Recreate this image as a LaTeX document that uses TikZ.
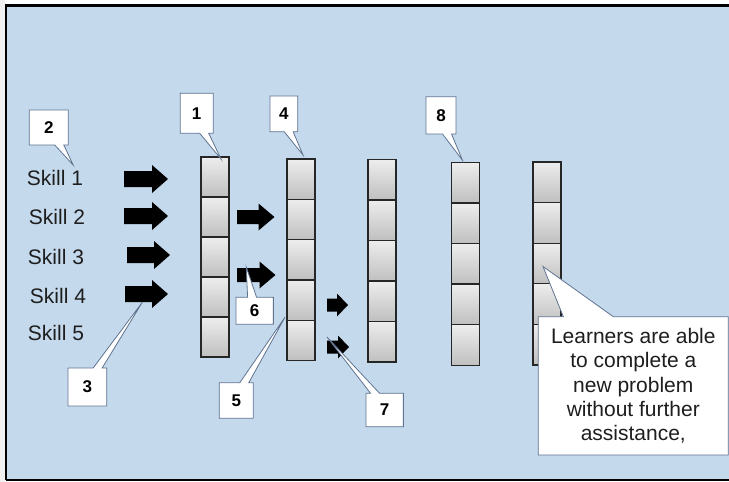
\documentclass[tikz,border=0pt]{standalone}
\usepackage{fontspec}
\setmainfont{Liberation Sans}
\usetikzlibrary{shapes.callouts,calc}

\definecolor{bgblue}{RGB}{197,217,236}
\definecolor{cborder}{RGB}{95,115,145}
\definecolor{skilltext}{RGB}{30,30,30}

\newcommand\blockarrow[7]{% name, x-left, y-centre, length, head length, shaft height, head height
  \fill[black] (#2,{#3-#6/2}) -- ({#2+#4-#5},{#3-#6/2}) -- ({#2+#4-#5},{#3-#7/2})
    -- ({#2+#4},#3) -- ({#2+#4-#5},{#3+#7/2}) -- ({#2+#4-#5},{#3+#6/2})
    -- (#2,{#3+#6/2}) -- cycle;
  \coordinate (#1) at ({#2+#4/2},#3);
}

\begin{document}
\begin{tikzpicture}[x=1pt,y=-1pt,
  cell/.style={draw=black!85, line width=1.3pt, top color=gray!14, bottom color=gray!50,
    minimum width=28pt, inner sep=0pt, outer sep=0pt},
  skill/.style={text=skilltext, font=\fontsize{21}{24}\selectfont, inner sep=0pt},
  note/.style={rectangle callout, draw=cborder, line width=0.8pt, fill=white,
    callout pointer width=9pt, inner sep=0pt, font=\fontsize{17}{20}\selectfont\bfseries},
  bignote/.style={rectangle callout, draw=cborder, line width=0.8pt, fill=white,
    callout pointer width=50pt, inner sep=0pt, align=center,
    font=\fontsize{21}{24.3}\selectfont, text=skilltext}
]
% background and frame
\useasboundingbox (0,0) rectangle (729,482);
\fill[white] (0,0) rectangle (729,482);
\fill[gray!12] (0,0) rectangle (5,482);
\fill[bgblue] (6,6) rectangle (729,479);
\draw[black, line width=2.4pt] (6,480) -- (6,5.5) -- (729,5.5);
\draw[black, line width=2.2pt] (6,480) -- (729,480);

% columns of cells
\foreach \c/\x/\t/\h in {1/215/157/40, 2/301/159/40.3, 3/382/159.5/40.5, 4/465.5/162.3/40.6, 5/547/162/40.6}{
  \foreach \k in {1,...,5}{
    \node[cell, minimum height=\h pt] (c\c-\k) at (\x,{\t+(\k-0.5)*\h}) {};
  }
}

% skills
\node[skill] (s1) at (55,178) {Skill 1};
\node[skill] (s2) at (57,217) {Skill 2};
\node[skill] (s3) at (56,257) {Skill 3};
\node[skill] (s4) at (58,296) {Skill 4};
\node[skill] (s5) at (56,333) {Skill 5};

% block arrows
\blockarrow{a1}{124}{179}{44}{16}{16}{28}
\blockarrow{a2}{124}{216}{44}{16}{16}{28}
\blockarrow{a3}{127}{255}{43}{16}{16}{28}
\blockarrow{a4}{125}{294}{43}{16}{16}{28}
\blockarrow{m1}{237}{217}{37.5}{16}{14}{27}
\blockarrow{m2}{237}{275}{38.5}{16}{14}{27}
\blockarrow{n1}{327}{305}{21}{11}{13}{23}
\blockarrow{n2}{327}{347}{22}{11}{13}{23}

% callouts
\node[note, minimum width=33pt, minimum height=40pt,
  callout absolute pointer={($(c1-1.north)+(6,2)$)}] (k1) at (196.7,113.3) {1};
\node[note, minimum width=39pt, minimum height=35pt,
  callout absolute pointer={($(s1.north east)+(-10,-5)$)}] (k2) at (48.8,127.5) {2};
\node[note, minimum width=38.7pt, minimum height=38pt,
  callout absolute pointer={($(a4)+(-4,8)$)}] (k3) at (87.3,387) {3};
\node[note, minimum width=27.7pt, minimum height=35.7pt,
  callout absolute pointer={($(c2-1.north)+(2,-4)$)}] (k4) at (283.8,113.8) {4};
\node[note, minimum width=34pt, minimum height=35.6pt,
  callout absolute pointer={($(c2-5.north west)+(-2,-3)$)}] (k5) at (236.3,400.5) {5};
\node[note, minimum width=37.3pt, minimum height=27pt,
  callout absolute pointer={($(m2)+(-10,-8)$)}] (k6) at (254.7,310.8) {6};
\node[note, minimum width=37.3pt, minimum height=33.4pt,
  callout absolute pointer={($(n2)+(-11,-10)$)}] (k7) at (384.7,410) {7};
\node[note, minimum width=30pt, minimum height=37.3pt,
  callout absolute pointer={($(c4-1.north)+(-3,-2)$)}] (k8) at (441,115.3) {8};
\node[bignote, minimum width=190pt, minimum height=138.3pt,
  callout absolute pointer={($(c5-3.center)+(-4,3)$)}] (kbig) at (633.3,385.8)
  {Learners are able\\to complete a\\new problem\\without further\\assistance,};
\end{tikzpicture}
\end{document}
